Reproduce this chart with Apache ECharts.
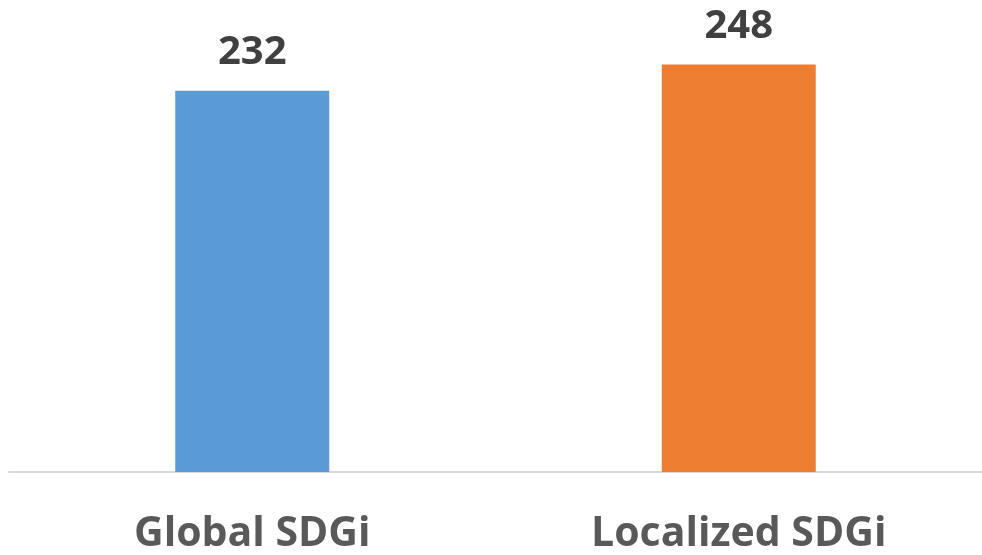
<!DOCTYPE html>
<html>
<head>
<meta charset="utf-8">
<script src="https://cdn.jsdelivr.net/npm/echarts@6/dist/echarts.min.js"></script>
<style>html,body{margin:0;padding:0;background:#fff}#c{width:982px;height:555px}</style>
</head>
<body>
<div id="c"></div>
<script>
const categories = ["Global SDGi", "Localized SDGi"];
const values = [232, 248];
const barColors = ["#5B9BD5", "#ED7D31"];

const chart = echarts.init(document.getElementById('c'), null, {renderer: 'canvas'});
chart.setOption({
  animation: false,
  backgroundColor: '#ffffff',
  grid: {left: 9, width: 978, top: 12, bottom: 82, containLabel: false},
  xAxis: {
    type: 'category',
    data: categories,
    axisLine: {show: true, lineStyle: {color: '#D9D9D9', width: 2}},
    axisTick: {show: false},
    axisLabel: {
      color: '#595959', fontFamily: 'Open Sans', fontWeight: 'bold', fontSize: 41, margin: 42
    }
  },
  yAxis: {
    type: 'value', min: 0, max: 280,
    show: false, splitLine: {show: false}
  },
  series: [{
    type: 'bar',
    barWidth: 154,
    data: values.map((v, i) => ({value: v, itemStyle: {color: barColors[i]}})),
    label: {
      show: true, position: 'top', distance: 18,
      color: '#404040', fontFamily: 'Open Sans', fontWeight: 'bold', fontSize: 40
    }
  }]
});
</script>
</body>
</html>
